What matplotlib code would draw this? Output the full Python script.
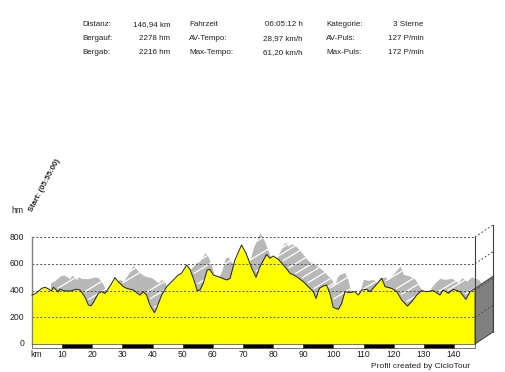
import matplotlib.pyplot as plt
from matplotlib.patches import Polygon, Rectangle
import numpy as np

plt.rcParams['font.family'] = ['Liberation Sans', 'DejaVu Sans']

# elevation profile (km, hm)
km = [0, 1.3, 3.2, 4.4, 5.5, 6.4, 7.1, 8.7, 9.3, 10.4, 12.6, 14.7, 15.9, 17.5, 18.7, 19.6,
      20.6, 22.0, 23.1, 24.2, 25.0, 26.1, 27.5, 28.6, 30.3, 31.4, 33.6, 34.7, 35.8, 36.9,
      38.0, 39.1, 40.6, 41.3, 43.0, 44.7, 46.9, 48.5, 49.6, 51.3, 52.4, 53.7, 54.8, 55.7,
      56.8, 58.1, 59.0, 60.1, 62.4, 64.6, 65.7, 67.3, 69.5, 71.0, 72.9, 74.3, 75.6, 77.8,
      78.9, 80.0, 81.7, 83.4, 85.6, 87.8, 90.0, 91.6, 92.2, 93.3, 94.2, 95.3, 96.6, 97.7,
      98.8, 99.9, 101.6, 102.7, 103.8, 105.5, 107.1, 108.2, 109.4, 111.0, 112.1, 113.8,
      116.0, 117.1, 119.3, 121.0, 122.6, 124.5, 125.9, 127.6, 129.2, 130.9, 133.1, 135.3,
      136.4, 138.1, 139.7, 142.0, 143.9, 145.3, 146.94]
hm = [366, 379, 416, 424, 411, 396, 424, 389, 411, 398, 396, 409, 404, 354, 292, 286,
      321, 379, 391, 379, 404, 441, 496, 466, 429, 416, 404, 384, 366, 391,
      366, 292, 234, 267, 366, 429, 479, 516, 529, 591, 558, 479, 399, 404,
      454, 553, 558, 516, 498, 479, 491, 628, 740, 678, 566, 498, 578, 670,
      641, 658, 633, 591, 529, 503, 466, 429, 416, 391, 341, 416, 434, 441,
      379, 274, 259, 304, 391, 384, 391, 366, 404, 409, 391, 434,
      491, 429, 416, 391, 329, 284, 316, 366, 399, 391, 399, 366,
      404, 379, 409, 391, 334, 391, 416]

y_ticks = [0, 200, 400, 600, 800]
x_ticks = [10, 20, 30, 40, 50, 60, 70, 80, 90, 100, 110, 120, 130, 140]

stats = [
    [('Distanz:', '146,94 km'), ('Fahrzeit', '06:05:12 h'), ('Kategorie:', '3 Sterne')],
    [('Bergauf:', '2278 hm'), ('AV-Tempo:', '28,97 km/h'), ('AV-Puls:', '127 P/min')],
    [('Bergab:', '2216 hm'), ('Max-Tempo:', '61,20 km/h'), ('Max-Puls:', '172 P/min')],
]

km = np.array(km)
hm = np.array(hm)
total = km[-1]
dx, dy = 6.1, 92   # depth offset of the 3D look, in data units

fig = plt.figure(figsize=(5.06, 3.72), dpi=100)
ax = fig.add_axes([32 / 506, 28 / 372, 443 / 506, 107 / 372])
ax.set_xlim(0, total)
ax.set_ylim(0, 800)
ax.axis('off')

# grey top surface (back copy of profile)
ax.fill_between(km + dx, dy, hm + dy, color='#b8b8b8', lw=0, clip_on=False, zorder=1)
# light streaks on descending parts of the surface
for i in range(len(km) - 1):
    if hm[i + 1] < hm[i] - 20:
        mid_k = (km[i] + km[i + 1]) / 2
        mid_h = (hm[i] + hm[i + 1]) / 2
        ax.plot([mid_k + 0.8, mid_k + dx], [mid_h + 12, mid_h + dy - 8], color='white',
                lw=0.9, clip_on=False, zorder=1.2)

# grid
for y in y_ticks[1:]:
    ax.plot([0, total], [y, y], color='#505050', lw=0.7, ls=(0, (2, 2)), clip_on=False, zorder=3)
    ax.plot([total, total + dx], [y, y + dy], color='#505050', lw=0.7, ls=(0, (2, 2)),
            clip_on=False, zorder=1.5)

# front profile
ax.fill_between(km, 0, hm, color='#ffff00', lw=0, clip_on=False, zorder=2)
ax.plot(km, hm, color='#202020', lw=0.7, clip_on=False, zorder=4)

# end face
end_face = Polygon([[total, 0], [total, hm[-1]], [total + dx, hm[-1] + dy], [total + dx, dy]],
                   closed=True, facecolor='#808080', edgecolor='#404040', lw=0.7,
                   clip_on=False, zorder=2.5)
ax.add_patch(end_face)
for y in y_ticks[1:3]:
    ax.plot([total, total + dx], [y, y + dy], color='#505050', lw=0.7, ls=(0, (2, 2)),
            clip_on=False, zorder=2.6)

# frame lines
ax.plot([total, total], [0, 800], color='#404040', lw=0.8, clip_on=False, zorder=3)
ax.plot([total + dx, total + dx], [dy, 800 + dy], color='#404040', lw=0.8, clip_on=False, zorder=3)
ax.plot([0, 0], [0, 800], color='#808080', lw=1.0, clip_on=False, zorder=3)

# km bar
for start in range(0, int(total) + 1, 10):
    end = min(start + 10, total)
    col = 'black' if (start // 10) % 2 == 1 else 'white'
    ax.add_patch(Rectangle((start, -28), end - start, 28, facecolor=col, edgecolor='#404040',
                           lw=0.5, clip_on=False, zorder=3))

# tick labels
for y in y_ticks:
    ax.text(-2.6, y, str(y), ha='right', va='center', fontsize=6.2, color='#202020')
for x in x_ticks:
    ax.text(x, -75, str(x), ha='center', va='center', fontsize=6.2, color='#202020')
ax.text(-0.4, -75, 'km', ha='left', va='center', fontsize=6.2, color='#202020')
ax.text(-7.0, 1000, 'hm', ha='left', va='center', fontsize=6.2, color='#202020')
ax.text(0.6, 980, 'Start: (05:55:00)', rotation=62, rotation_mode='anchor', ha='left',
        va='bottom', fontsize=5.6, fontweight='bold', color='#202020')

# header stats
col_x = [(82.5, 170.5), (189, 302.5), (326, 423.5)]
row_y = [25, 38.5, 52.3]
for r, row in enumerate(stats):
    for c, (lab, val) in enumerate(row):
        fig.text(col_x[c][0] / 506, 1 - row_y[r] / 372, lab, ha='left', va='center',
                 fontsize=5.8, color='#202020')
        fig.text(col_x[c][1] / 506, 1 - row_y[r] / 372, val, ha='right', va='center',
                 fontsize=5.8, color='#202020')

fig.text(470 / 506, 1 - 367 / 372, 'Profil created by CicloTour', ha='right', va='center',
         fontsize=6.0, color='#202020')

fig.savefig('out.png', dpi=100)
